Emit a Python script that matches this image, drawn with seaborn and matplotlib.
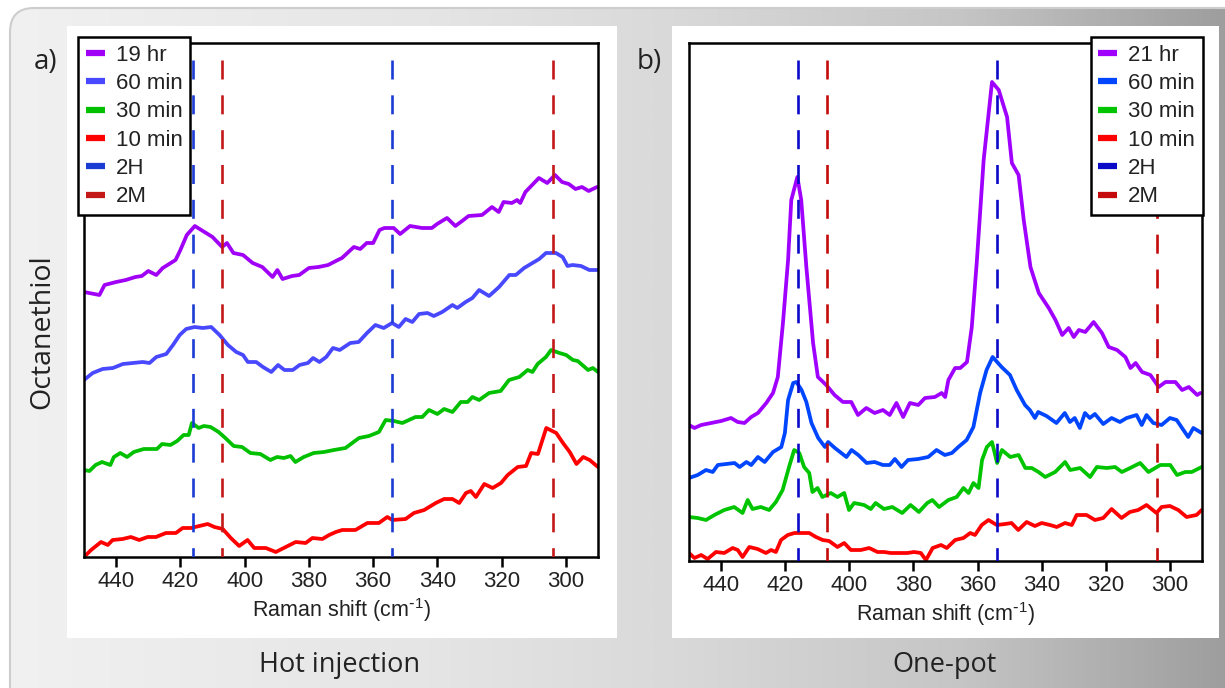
import numpy as np
import pandas as pd
import matplotlib
matplotlib.use("Agg")
import matplotlib.pyplot as plt
import seaborn as sns
from matplotlib.patches import FancyBboxPatch, Rectangle
from matplotlib.colors import LinearSegmentedColormap
from matplotlib.lines import Line2D

sns.set_theme(style="white")
plt.rcParams["font.family"] = ["Liberation Sans", "DejaVu Sans"]
plt.rcParams["mathtext.default"] = "regular"

# ---------------------------------------------------------------------------
# Raman spectra (shift in cm^-1, intensity in arbitrary offset units)
# ---------------------------------------------------------------------------
# Hot injection
A_19HR = [(450, 265), (445.2, 262), (443.6, 272), (440, 275), (437, 277), (434, 280), (432, 281),
          (430, 286), (427.5, 282), (425.5, 289), (421.5, 297), (420, 307), (418, 322), (415.5, 331),
          (413.5, 327), (410, 320), (407, 310), (405.5, 314), (403.5, 304), (400.5, 302), (397.5, 294),
          (394.5, 290), (391.3, 280), (389.8, 287), (388.2, 278), (385.2, 281), (383, 282), (380, 289),
          (377, 290), (374, 292), (371, 297), (369.7, 299), (366, 310), (364, 308), (362, 314),
          (360, 314), (358, 327), (356.5, 329), (353.6, 329), (351.6, 323), (348.5, 331), (344.8, 329),
          (341.7, 329), (340.1, 333), (337, 339), (334.4, 331), (332.3, 336), (330.3, 341), (326.1, 342),
          (323, 350), (320.9, 345), (319.4, 355), (316.8, 354), (315.2, 357), (314.2, 354), (312.6, 365),
          (308.4, 379), (305.8, 374), (303.4, 382), (301.2, 375), (299.1, 373), (297, 368), (295, 370),
          (292.9, 366), (290.3, 370)]
A_60MIN = [(450, 177), (447.3, 184), (444.2, 188), (441, 189), (437.9, 193), (434.8, 194), (431.7, 195),
           (429.6, 194), (427.5, 200), (424.4, 203), (422.3, 212), (420.2, 222), (418.2, 228), (415.6, 230),
           (413, 229), (410.4, 230), (407.8, 222), (405.2, 212), (402.6, 205), (400.5, 202), (399, 195),
           (396.4, 195), (394.3, 190), (391.7, 185), (389.6, 192), (387.6, 187), (385, 187), (382.9, 192),
           (380.3, 194), (378.7, 199), (376.7, 195), (374.6, 200), (372.5, 209), (370.4, 207), (367.1, 214),
           (364.5, 215), (361.9, 224), (359.3, 232), (356.7, 229), (354.1, 234), (352, 230), (349.9, 238),
           (347.8, 235), (345.7, 243), (343.1, 244), (341.1, 241), (338.5, 245), (335.3, 252), (333.8, 249),
           (331.2, 255), (329.1, 259), (327, 267), (323.9, 261), (320.8, 270), (317.6, 282), (315.6, 282),
           (313, 289), (310.4, 294), (308.3, 298), (306.2, 304), (303.1, 304), (301, 300), (299.5, 291),
           (297.9, 292), (295.3, 291), (292.7, 287), (290.1, 287)]
A_30MIN = [(450, 87), (448.3, 86), (446.4, 92), (444.4, 95), (441.8, 92), (440.7, 100), (438.7, 104),
           (436.6, 100), (434.5, 105), (431.4, 108), (427.3, 108), (425.7, 113), (423.1, 112), (421, 116),
           (419, 122), (417.4, 122), (416.4, 134), (414.3, 129), (412.7, 131), (410.6, 130), (408.1, 125),
           (406, 119), (403.4, 111), (400.8, 110), (398.2, 104), (395.1, 103), (392, 97), (389.9, 100),
           (387.8, 99), (385.7, 101), (384.2, 95), (381.6, 100), (378.5, 104), (375.3, 105), (372.2, 107),
           (368.6, 109), (364.4, 119), (361.3, 121), (358.2, 125), (356.1, 137), (353.5, 136), (350.9, 134),
           (346.8, 140), (344.7, 140), (342.6, 147), (340, 143), (337.9, 148), (335.3, 145), (332.7, 155),
           (330.6, 155), (329.1, 160), (327, 157), (323.9, 164), (320.3, 166), (317.7, 177), (314.5, 180),
           (311.9, 187), (310.4, 185), (308.8, 193), (306.2, 200), (304.6, 207), (302, 204), (299.9, 202),
           (297.8, 197), (296.3, 196), (293.1, 187), (291.6, 189), (290, 185)]
A_10MIN = [(450, 0), (447.8, 7), (444.7, 15), (442.6, 12), (441.1, 17), (438, 18), (435.4, 20), (432.8, 17),
           (430.2, 20), (427.6, 20), (424.5, 24), (421.4, 24), (419.3, 29), (416.7, 29), (414.1, 31),
           (411.5, 33), (409.4, 30), (406.8, 28), (404.3, 19), (401.7, 11), (399.1, 17), (397, 9),
           (393.4, 9), (390.3, 5), (387.2, 10), (384.1, 15), (381, 14), (378.9, 19), (375.8, 18),
           (373.7, 22), (371.6, 25), (369.6, 27), (365.5, 27), (361.8, 34), (358.2, 34), (355.6, 40),
           (354, 37), (349.9, 38), (347.3, 44), (344.1, 47), (340.5, 54), (337.9, 58), (335.3, 58),
           (333.2, 54), (331.1, 64), (329.6, 66), (328, 60), (325.4, 73), (322.8, 69), (320.2, 74),
           (318.1, 82), (315, 90), (312.4, 91), (310.8, 104), (308.7, 103), (306.1, 129), (303, 124),
           (300.9, 114), (298.8, 105), (296.7, 93), (294.6, 100), (292.6, 97), (290, 90)]

# One-pot
B_21HR = [(450, 136), (448.3, 133), (446.2, 136), (443.1, 138), (440, 140), (436.9, 143), (434.8, 139),
          (432.7, 138), (430.6, 144), (428.5, 148), (425.9, 158), (423.8, 168), (422.3, 184), (420.7, 238),
          (419.1, 301), (418.1, 361), (416.2, 384), (415, 361), (413.4, 294), (411.3, 218), (409.8, 184),
          (407.2, 176), (404.6, 166), (402, 159), (399.4, 159), (397.3, 146), (394.7, 153), (392.1, 148),
          (389.5, 151), (387.4, 146), (385.3, 158), (383.2, 144), (381.1, 158), (378.5, 156), (376.4, 163),
          (373.3, 164), (371.2, 168), (370.1, 164), (369.1, 181), (367, 193), (365.4, 193), (363.3, 199),
          (361.8, 234), (360.2, 301), (358.1, 401), (355.5, 479), (353.4, 471), (350.8, 444), (349.3, 398),
          (347.2, 386), (345.6, 341), (343.5, 294), (340.9, 268), (337.8, 253), (335.7, 241), (333.6, 226),
          (331.6, 233), (330, 224), (328.4, 231), (326.4, 229), (323.8, 239), (321.2, 228), (319.1, 214),
          (316.5, 211), (313.9, 204), (312.3, 193), (310.7, 198), (308.7, 189), (306.1, 186), (303.5, 174),
          (301.4, 179), (298.3, 179), (296.2, 171), (294.1, 174), (291.5, 166), (290.5, 168)]
B_60MIN = [(450, 83), (447.3, 86), (444.7, 91), (442.6, 89), (441, 96), (438.4, 97), (435.8, 98),
           (434.2, 94), (432.1, 99), (430.6, 96), (428.5, 104), (426.4, 99), (423.8, 109), (421.2, 114),
           (420.1, 128), (419.1, 161), (417.5, 178), (416.5, 179), (414.9, 171), (413.4, 159), (411.8, 138),
           (409.7, 123), (407.6, 114), (406.6, 119), (404.5, 113), (402.9, 109), (400.9, 104), (399.3, 111),
           (397.2, 106), (394.6, 98), (392.1, 99), (389.5, 96), (387.4, 96), (385.8, 102), (383.7, 94),
           (381.7, 101), (378.5, 102), (375.4, 104), (372.8, 111), (370.2, 106), (368, 108), (366, 114),
           (363.4, 121), (361.3, 134), (359.2, 168), (357.2, 191), (355.3, 204), (352.5, 194), (349.9, 186),
           (347.8, 171), (345.2, 156), (343.7, 151), (342.1, 143), (341.1, 149), (338.5, 145), (335.4, 138),
           (332.8, 148), (331.2, 139), (329.7, 143), (328.1, 133), (326.5, 148), (325, 143), (323.4, 147),
           (320.8, 137), (318.2, 143), (315.6, 139), (313.5, 143), (310.4, 146), (308.8, 136), (307.3, 146),
           (305.2, 138), (302.6, 136), (300, 143), (297.9, 141), (295.8, 131), (294.3, 124), (292.7, 133),
           (290.1, 128)]
B_30MIN = [(450, 44), (447.3, 43), (444.7, 41), (442.1, 46), (439, 51), (435.9, 54), (433.3, 48),
           (431.7, 61), (430.2, 52), (427.6, 54), (425, 51), (422.9, 59), (420.8, 71), (418.8, 94),
           (417.2, 111), (415.6, 108), (414.1, 94), (412.5, 88), (411.5, 69), (409.9, 73), (408.4, 64),
           (405.8, 68), (403.7, 64), (401.6, 68), (400.1, 51), (398.5, 58), (395.4, 56), (393.3, 52),
           (391.8, 58), (389.2, 52), (386.6, 54), (383.5, 48), (380.9, 56), (378.3, 49), (375.7, 58),
           (374.1, 61), (372, 54), (369.1, 61), (366.5, 64), (364.4, 73), (362.8, 68), (361.3, 78),
           (359.7, 73), (358.6, 101), (357.1, 114), (355.5, 119), (353.9, 98), (352.4, 111), (349.8, 104),
           (347.2, 106), (345.1, 93), (343.1, 93), (341, 89), (338.9, 84), (335.8, 89), (332.7, 99),
           (331.1, 91), (328, 93), (324.9, 84), (322.8, 94), (319.7, 93), (317.1, 94), (315, 89),
           (312.4, 93), (309.3, 98), (306.7, 89), (303, 96), (299.9, 96), (297.8, 86), (295.2, 89),
           (293.2, 89), (290.1, 94)]
B_10MIN = [(450, 8), (448.3, 3), (446.2, 6), (444.2, 2), (441.6, 9), (439, 8), (436.4, 13), (434.8, 11),
           (433.3, 4), (431.2, 14), (428.6, 12), (426, 8), (424.4, 11), (422.9, 9), (421.3, 21), (419.2, 26),
           (417.1, 28), (415.1, 28), (412.5, 28), (410.4, 24), (408.3, 21), (406.3, 20), (403.7, 14),
           (401.6, 18), (399.5, 11), (396.4, 11), (393.8, 13), (391.2, 9), (389.1, 9), (387.1, 8),
           (383.9, 8), (381.9, 8), (379.8, 9), (377.7, 8), (376.1, 1), (374, 13), (371.4, 16), (369.6, 13),
           (367, 21), (364.4, 23), (362.3, 28), (360.8, 26), (358.7, 36), (356.6, 41), (354, 36),
           (351.4, 37), (349.4, 38), (347.3, 31), (344.7, 39), (342.1, 35), (340, 38), (337.4, 36),
           (335.3, 34), (332.7, 38), (330.6, 36), (329.1, 46), (326, 46), (323.4, 41), (320.8, 43),
           (318.2, 52), (315.1, 43), (312.5, 49), (309.9, 51), (307.3, 56), (304.2, 48), (302.6, 54),
           (300, 55), (297.4, 51), (294.8, 44), (291.7, 46), (290.1, 51)]

# Reference phonon positions of the two polytypes
REF_2H = [416, 354]
REF_2M = [407, 304]

SERIES_A = ["19 hr", "60 min", "30 min", "10 min"]
SERIES_B = ["21 hr", "60 min", "30 min", "10 min"]
COLORS_A = ["#a000f5", "#4848ff", "#00c000", "#ff0000"]
COLORS_B = ["#a000ff", "#0046ff", "#00c400", "#ff0000"]
COLOR_2H_A, COLOR_2M_A = "#1a3cd2", "#c41818"
COLOR_2H_B, COLOR_2M_B = "#0a0ac8", "#c40a0a"

X_TICKS = [440, 420, 400, 380, 360, 340, 320, 300]


def long_frame(names, spectra):
    rows = []
    for name, spec in zip(names, spectra):
        for shift, inten in spec:
            rows.append({"shift": shift, "intensity": inten, "series": name})
    return pd.DataFrame(rows)


df_a = long_frame(SERIES_A, [A_19HR, A_60MIN, A_30MIN, A_10MIN])
df_b = long_frame(SERIES_B, [B_21HR, B_60MIN, B_30MIN, B_10MIN])

W, H = 1225, 688
fig = plt.figure(figsize=(W / 100, H / 100), dpi=100)
fig.patch.set_facecolor("white")

# Backdrop: rounded grey gradient card with two white panels
bg = fig.add_axes([0, 0, 1, 1], zorder=-10)
bg.set_xlim(0, W)
bg.set_ylim(H, 0)
bg.axis("off")
cmap = LinearSegmentedColormap.from_list(
    "card", [(0, "#f1f1f1"), (0.35, "#e5e5e5"), (0.55, "#d9d9d9"), (0.78, "#c6c6c6"), (1.0, "#9e9e9e")])
im = bg.imshow(np.linspace(0, 1, 512)[None, :], cmap=cmap, extent=(0, W, H, 0), aspect="auto")
card = FancyBboxPatch((10, 8), W + 40, H + 40, boxstyle="round,pad=0,rounding_size=24",
                      fc="none", ec="#cdcdcd", lw=1.5)
bg.add_patch(card)
im.set_clip_path(card)
bg.add_patch(Rectangle((67, 26), 550, 612, fc="white", ec="none"))
bg.add_patch(Rectangle((672, 26), 547, 612, fc="white", ec="none"))

ax_a = fig.add_axes([84 / W, 1 - 557 / H, (598 - 84) / W, (557 - 43) / H])
ax_b = fig.add_axes([689 / W, 1 - 561 / H, (1202 - 689) / W, (561 - 43) / H])

DASH = (0, (7.2, 6.0))


def draw_panel(ax, df, names, colors, c2h, c2m, ytop, leg_loc, leg_anchor):
    sns.lineplot(data=df, x="shift", y="intensity", hue="series", hue_order=names,
                 palette=dict(zip(names, colors)), sort=False, estimator=None,
                 lw=2.7, legend=False, ax=ax, zorder=2)
    for pos in REF_2H:
        ax.plot([pos, pos], [0.967, 0], transform=ax.get_xaxis_transform(), color=c2h,
                lw=1.9, linestyle=DASH, zorder=3)
    for pos in REF_2M:
        ax.plot([pos, pos], [0.967, 0], transform=ax.get_xaxis_transform(), color=c2m,
                lw=1.9, linestyle=DASH, zorder=3)
    ax.set_xlim(450, 290)
    ax.set_ylim(0, ytop)
    ax.set_xticks(X_TICKS)
    ax.set_yticks([])
    ax.set_facecolor("none")
    ax.tick_params(axis="x", bottom=True, direction="out", length=7, width=1.8,
                   labelsize=16, pad=3, colors="black", labelcolor="#222222")
    for sp in ax.spines.values():
        sp.set_visible(True)
        sp.set_color("black")
        sp.set_linewidth(1.8)
    ax.set_xlabel(r"Raman shift (cm$^{\text{-}1}$)", fontsize=15.5, color="#222222", labelpad=3)
    ax.set_ylabel("")
    handles = [Line2D([], [], color=c, lw=4.5, solid_capstyle="butt") for c in colors + [c2h, c2m]]
    labels = names + ["2H", "2M"]
    leg = ax.legend(handles, labels, loc=leg_loc, bbox_to_anchor=leg_anchor, borderaxespad=0,
                    frameon=True, fancybox=False, edgecolor="black", facecolor="white",
                    framealpha=1, fontsize=16, handlelength=0.85, handletextpad=0.5,
                    labelspacing=0.33, borderpad=0.35, labelcolor="#222222")
    leg.get_frame().set_linewidth(1.8)


draw_panel(ax_a, df_a, SERIES_A, COLORS_A, COLOR_2H_A, COLOR_2M_A, 514,
           "upper left", (-6 / 514, 1 + 6 / 514))
draw_panel(ax_b, df_b, SERIES_B, COLORS_B, COLOR_2H_B, COLOR_2M_B, 518,
           "upper right", (1 + 1 / 513, 1 + 6 / 518))

title_font = ["Open Sans", "DejaVu Sans"]
fig.text(34 / W, 1 - 62 / H, "a)", fontsize=20, family=title_font, va="center", ha="left", color="#222222")
fig.text(637 / W, 1 - 62 / H, "b)", fontsize=20, family=title_font, va="center", ha="left", color="#222222")
fig.text(42 / W, 1 - 332 / H, "Octanethiol", rotation=90, fontsize=20.5, family=title_font,
         va="center", ha="center", color="#222222")
fig.text(340 / W, 1 - 665 / H, "Hot injection", fontsize=19.5, family=title_font,
         va="center", ha="center", color="#222222")
fig.text(945 / W, 1 - 665 / H, "One-pot", fontsize=19.5, family=title_font,
         va="center", ha="center", color="#222222")

fig.savefig("out.png", dpi=100)
